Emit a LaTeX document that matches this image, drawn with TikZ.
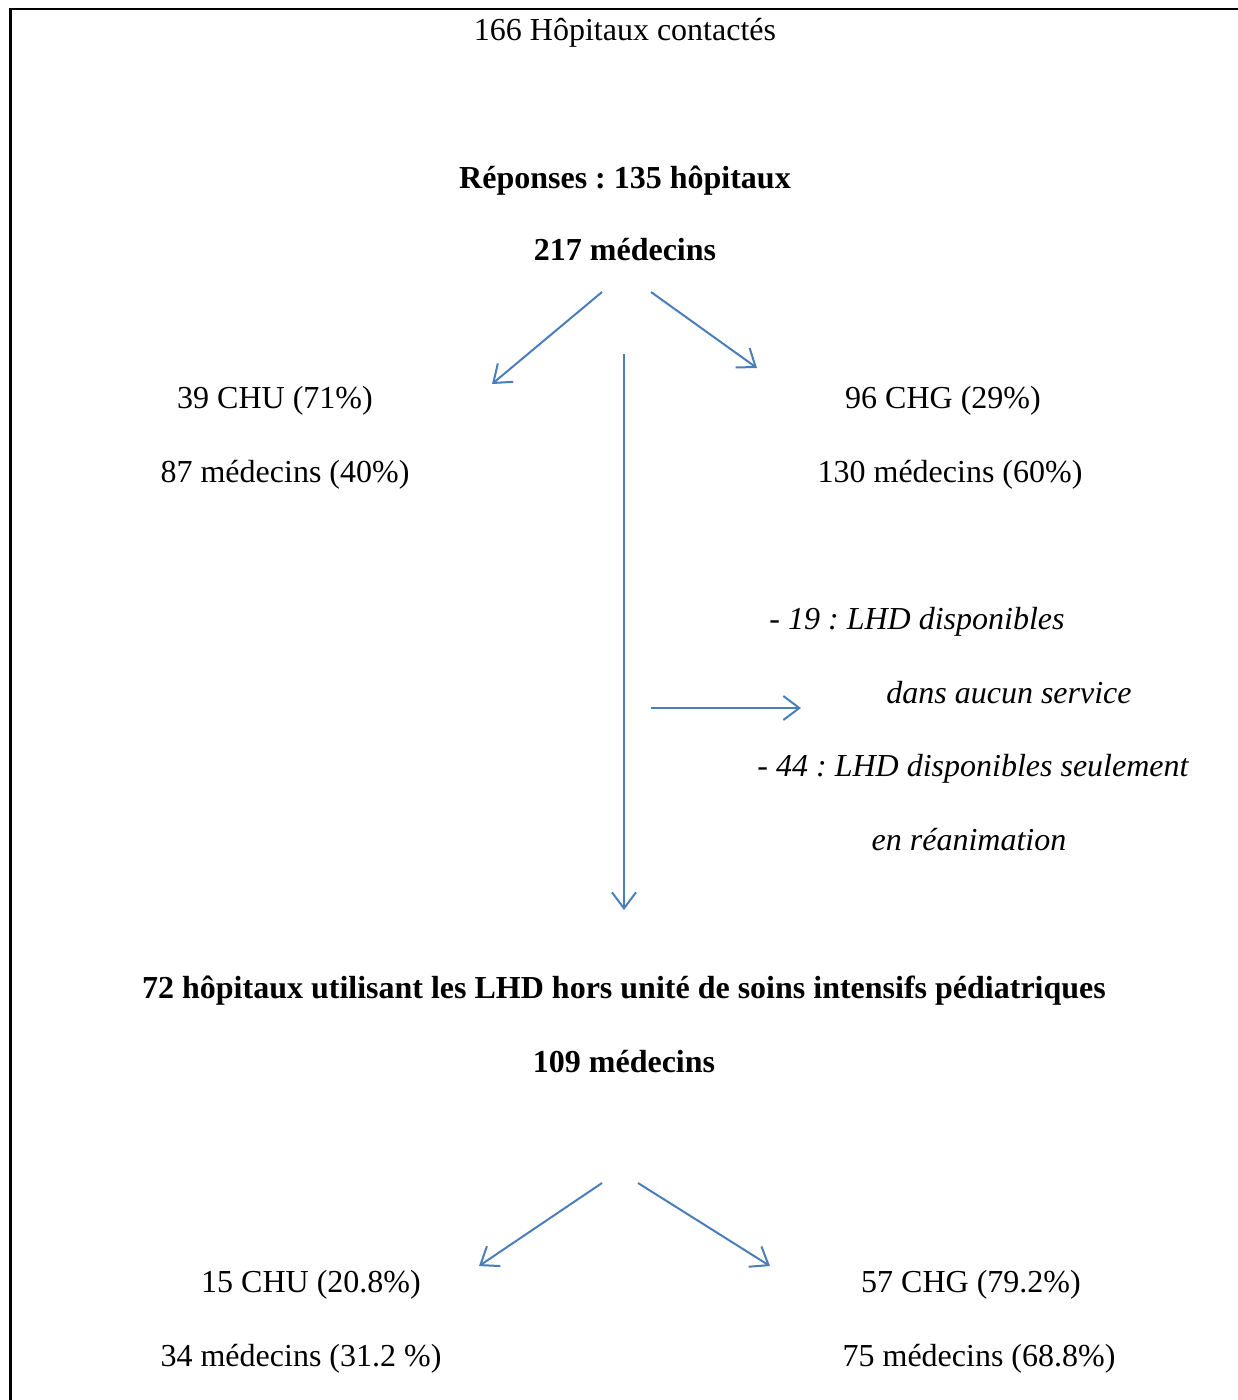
\documentclass[tikz,border=0pt]{standalone}
\usepackage{fontspec}
\setmainfont{Liberation Serif}
\usepackage{xcolor}
\usepackage{tikz}
\usetikzlibrary{
  arrows.meta
}
\frenchspacing
\definecolor{ArrowBlue}{HTML}{4A7EBB}
\tikzset{
  label text/.style={
    anchor=base,
    inner sep=0pt,
    font=\fontsize{32}{38}\selectfont
  },
  title text/.style={
    label text,
    font=\fontsize{32}{38}\selectfont\bfseries
  },
  note text/.style={
    label text,
    font=\fontsize{32}{38}\selectfont\itshape
  },
  flow/.style={
    draw=ArrowBlue,
    line width=2pt,
    -{Straight Barb[length=16pt,width=24pt,line width=2pt]}
  }
}

\begin{document}
\begin{tikzpicture}[
  x=1pt,
  y=-1pt
]

  \useasboundingbox (0,0) rectangle (1238,1400);

  % frame (top and left edges only)
  \draw[line width=2.5pt]
  (10.5,1400) -- (10.5,9) -- (1238,9);

  % top block
  \node[label text] (contacted) at (625,40) {
    166 Hôpitaux contactés
  };

  \node[title text] (answers) at (625,188) {
    Réponses : 135 hôpitaux
  };

  \node[title text] (doctorsAll) at (625,260) {
    217 médecins
  };

  \node[label text] (chuTop) at (275,408) {
    39 CHU (71\%)
  };

  \node[label text] (chuTopDoc) at (285,482) {
    87 médecins (40\%)
  };

  \node[label text] (chgTop) at (943,408) {
    96 CHG (29\%)
  };

  \node[label text] (chgTopDoc) at (950,482) {
    130 médecins (60\%)
  };

  % exclusions
  \node[note text] (exclA) at (917,629) {
    - 19 : LHD disponibles
  };

  \node[note text] (exclB) at (1009,703) {
    dans aucun service
  };

  \node[note text] (exclC) at (973,776) {
    - 44 : LHD disponibles seulement
  };

  \node[note text] (exclD) at (969,850) {
    en réanimation
  };

  % bottom block
  \node[title text] (users) at (624,998) {
    72 hôpitaux utilisant les LHD hors unité de soins intensifs pédiatriques
  };

  \node[title text] (doctorsUsers) at (624,1072) {
    109 médecins
  };

  \node[label text] (chuBottom) at (311,1292) {
    15 CHU (20.8\%)
  };

  \node[label text] (chuBottomDoc) at (301,1366) {
    34 médecins (31.2 \%)
  };

  \node[label text] (chgBottom) at (971,1292) {
    57 CHG (79.2\%)
  };

  \node[label text] (chgBottomDoc) at (979,1366) {
    75 médecins (68.8\%)
  };

  % arrow ends
  \coordinate (splitTopL) at (602,292);
  \coordinate (splitTopR) at (651,292);
  \coordinate (toChuTop) at (492,384);
  \coordinate (toChgTop) at (757,368);
  \coordinate (mainStart) at (624,354);
  \coordinate (mainEnd) at (624,910);
  \coordinate (exclStart) at (651,708);
  \coordinate (exclEnd) at (801,708);
  \coordinate (splitBotL) at (602,1183);
  \coordinate (splitBotR) at (638,1183);
  \coordinate (toChuBot) at (479,1266);
  \coordinate (toChgBot) at (770,1266);

  \draw[flow]
  (splitTopL) --
  (toChuTop);

  \draw[flow]
  (splitTopR) --
  (toChgTop);

  \draw[flow]
  (mainStart) --
  (mainEnd);

  \draw[flow]
  (exclStart) --
  (exclEnd);

  \draw[flow]
  (splitBotL) --
  (toChuBot);

  \draw[flow]
  (splitBotR) --
  (toChgBot);

\end{tikzpicture}
\end{document}
